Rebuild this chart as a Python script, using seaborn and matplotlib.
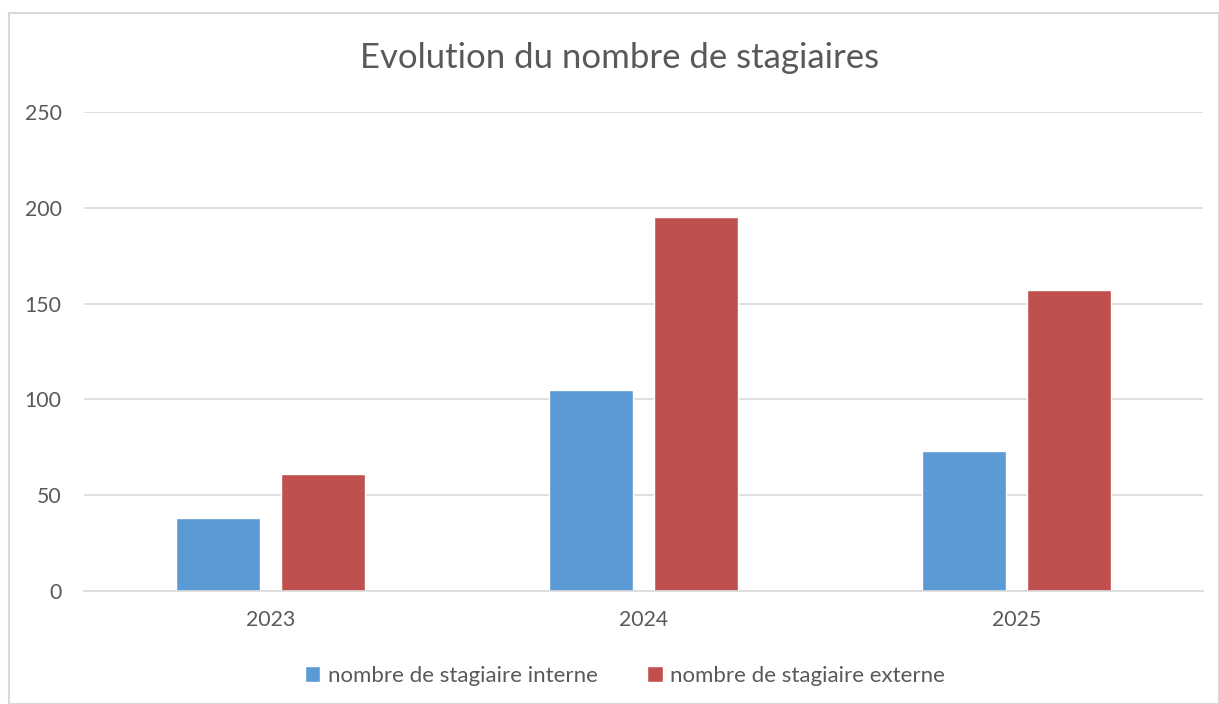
import matplotlib
matplotlib.use("Agg")
import matplotlib.pyplot as plt
import seaborn as sns
import pandas as pd
from matplotlib.patches import Rectangle

years = ["2023", "2024", "2025"]
internes = [38, 105, 73]
externes = [61, 195, 157]
series_names = ["nombre de stagiaire interne", "nombre de stagiaire externe"]
title = "Evolution du nombre de stagiaires"

df = pd.DataFrame({
    "annee": years * 2,
    "valeur": internes + externes,
    "serie": [series_names[0]] * 3 + [series_names[1]] * 3,
})

sns.set_theme(style="white")
plt.rcParams["font.family"] = ["Lato", "DejaVu Sans"]
txt = "#595959"
grid = "#D9D9D9"

fig = plt.figure(figsize=(12.19, 7.04), dpi=100)
W, H = 1219, 704
ax = fig.add_axes([84 / W, 1 - 591 / H, (1203 - 84) / W, (591 - 112) / H])

sns.barplot(data=df, x="annee", y="valeur", hue="serie",
            palette=["#5B9BD5", "#C0504D"], width=0.568, gap=0.2075,
            ax=ax, saturation=1, legend=True)

ax.set_ylim(0, 250)
ax.set_yticks([0, 50, 100, 150, 200, 250])
ax.set_xlim(-0.5, 2.5)
ax.yaxis.grid(True, color=grid, linewidth=1.2)
ax.set_axisbelow(True)
for s in ["top", "right", "left"]:
    ax.spines[s].set_visible(False)
ax.spines["bottom"].set_color(grid)
ax.spines["bottom"].set_linewidth(1.2)
ax.set_xlabel("")
ax.set_ylabel("")
ax.tick_params(axis="both", length=0, labelsize=15.3, labelcolor=txt)
ax.tick_params(axis="x", pad=14)
ax.tick_params(axis="y", pad=16)

fig.text(620 / W, 1 - 58 / H, title, ha="center", va="center",
         fontsize=25, color=txt)

handles, labels = ax.get_legend_handles_labels()
ax.legend_.remove()
fig.legend(handles, labels, loc="center", bbox_to_anchor=(625 / W, 1 - 676 / H),
           ncol=2, frameon=False, fontsize=16, labelcolor=txt,
           handlelength=0.7, handleheight=0.7, handletextpad=0.35,
           columnspacing=2.2)

fig.add_artist(Rectangle((9 / W, 0), (W - 9) / W, (H - 13) / H,
                         transform=fig.transFigure, fill=False,
                         edgecolor="#D9D9D9", linewidth=1.5))

fig.savefig("out.png", dpi=100, facecolor="white")
